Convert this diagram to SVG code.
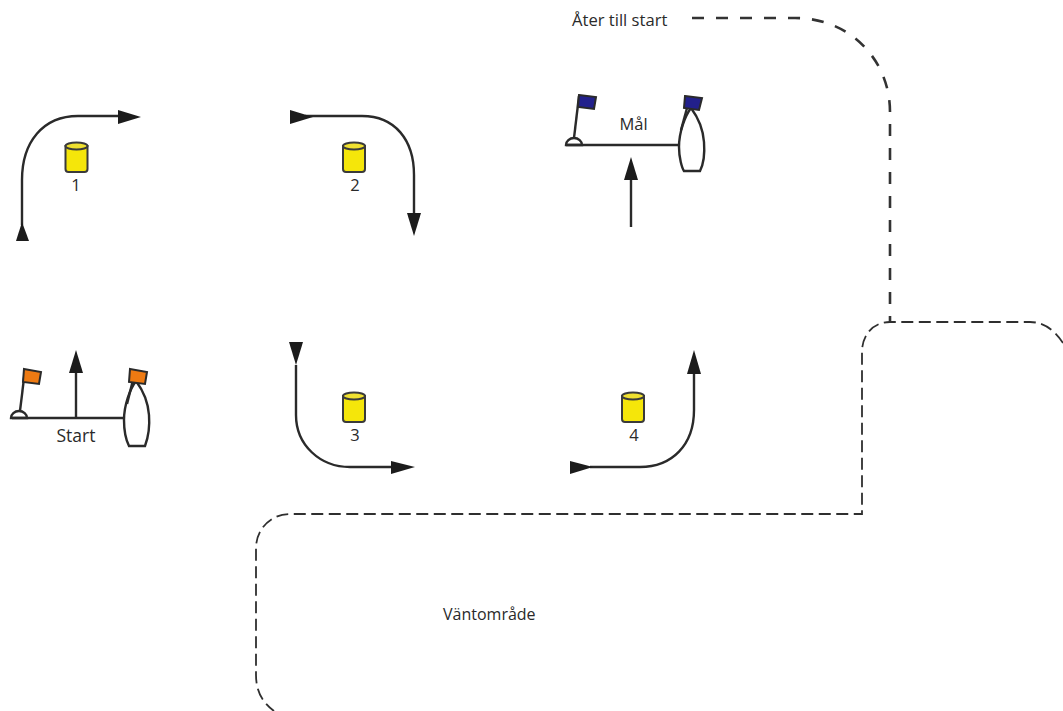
<svg xmlns="http://www.w3.org/2000/svg" width="1063" height="711" viewBox="0 0 1063 711">
<defs>
<style>
text{font-family:"Open Sans","Noto Sans","Liberation Sans",sans-serif;fill:#2a2a2a;font-size:16.5px}
.l{fill:none;stroke:#2a2a2a;stroke-width:2.4}
.h{fill:#1c1c1c;stroke:none}
.m{fill:none;stroke:#333;stroke-width:2.6;stroke-dasharray:12 12}
.m2{fill:none;stroke:#2f2f2f;stroke-width:1.8;stroke-dasharray:12 5.5}
.hull{fill:#fff;stroke:#2a2a2a;stroke-width:2.4}
.cyl{fill:#f5e60a;stroke:#3a3a3a;stroke-width:2}
.or{fill:#ee7a12;stroke:#2a2a2a;stroke-width:2}
.bl{fill:#22208c;stroke:#2a2a2a;stroke-width:2}
</style>
<g id="can">
<path class="cyl" d="M-11,-11V12Q-11,15 -8,15H8Q11,15 11,12V-11Z"/>
<ellipse cx="0" cy="-11" rx="11" ry="3.5" fill="#efe030" stroke="#3a3a3a" stroke-width="2"/>
</g>
</defs>
<g id="connectors">
<path class="l" d="M22,225V180C22,142 43,116 78,116H120"/>
<path class="h" d="M22,222L29,241H16Z"/>
<path class="h" d="M141,117L118,110V124Z"/>
<path class="l" d="M305,116H362C395,116 414,140 414,175V215"/>
<path class="h" d="M290,110L313,117L290,124Z"/>
<path class="h" d="M414,236L407,213H421Z"/>
<path class="l" d="M296,365V415C296,445 320,467 350,467H395"/>
<path class="h" d="M289,342H303L296,365Z"/>
<path class="h" d="M415,467L391,461V474Z"/>
<path class="l" d="M590,467H640C672,467 694,445 694,410V370"/>
<path class="h" d="M570,461L593,467L570,474Z"/>
<path class="h" d="M694,350L687,374H701Z"/>
<path class="l" d="M631,227V180"/>
<path class="h" d="M631,157L624,180H638Z"/>
<path class="l" d="M76,418V372"/>
<path class="h" d="M76,350L69,373H83Z"/>
<path class="m" d="M692,18H795C850,18 890,60 890,112V322"/>
<path class="m2" d="M1063,343C1053,328 1042,322 1030,322H890C872,322 862,336 862,352V514H290C270,514 256,530 256,548V675C256,692 263,703 274,711"/>
</g>
<g id="start">
<path class="l" d="M12,418H124"/>
<path class="l" d="M11,418A8,7 0 0 1 27,418Z" fill="#fff"/>
<path class="l" d="M20,411L25,370"/>
<path class="or" d="M24,369L41,372L39,384L23,382Z"/>
<path class="hull" d="M136,381C130,389 124,405 124,420C124,432 127,442 129,446H145C148,438 150,428 149,415C148,402 142,389 136,381Z"/>
<path class="l" d="M127,404L133,380"/>
<path class="or" d="M130,369L147,372L145,384L129,382Z"/>
<text x="76" y="442" text-anchor="middle" style="font-size:17.5px">Start</text>
</g>
<g id="goal">
<path class="l" d="M566,145H679"/>
<path class="l" d="M566,145A8,7 0 0 1 582,145Z" fill="#fff"/>
<path class="l" d="M574,138L579,96"/>
<path class="bl" d="M579,95L596,97L594,109L578,107Z"/>
<path class="hull" d="M691,108C685,116 679,132 679,147C679,158 682,168 684,171H700C703,165 705,155 704,142C703,129 697,116 691,108Z"/>
<path class="l" d="M681,130L687,108"/>
<path class="bl" d="M685,96L702,98L699,110L684,108Z"/>
<text x="633.500" y="130" text-anchor="middle">Mål</text>
</g>
<g id="mark1"><use href="#can" x="76.500" y="157"/><text x="76" y="191" text-anchor="middle">1</text></g>
<g id="mark2"><use href="#can" x="354" y="157"/><text x="355" y="191" text-anchor="middle">2</text></g>
<g id="mark3"><use href="#can" x="354" y="407"/><text x="355" y="441" text-anchor="middle">3</text></g>
<g id="mark4"><use href="#can" x="633" y="407"/><text x="634" y="441" text-anchor="middle">4</text></g>
<g id="return"><text x="572" y="26" style="font-size:16.600px">Åter till start</text></g>
<g id="waiting"><text x="443" y="620" style="font-size:16px">Väntområde</text></g>
</svg>
